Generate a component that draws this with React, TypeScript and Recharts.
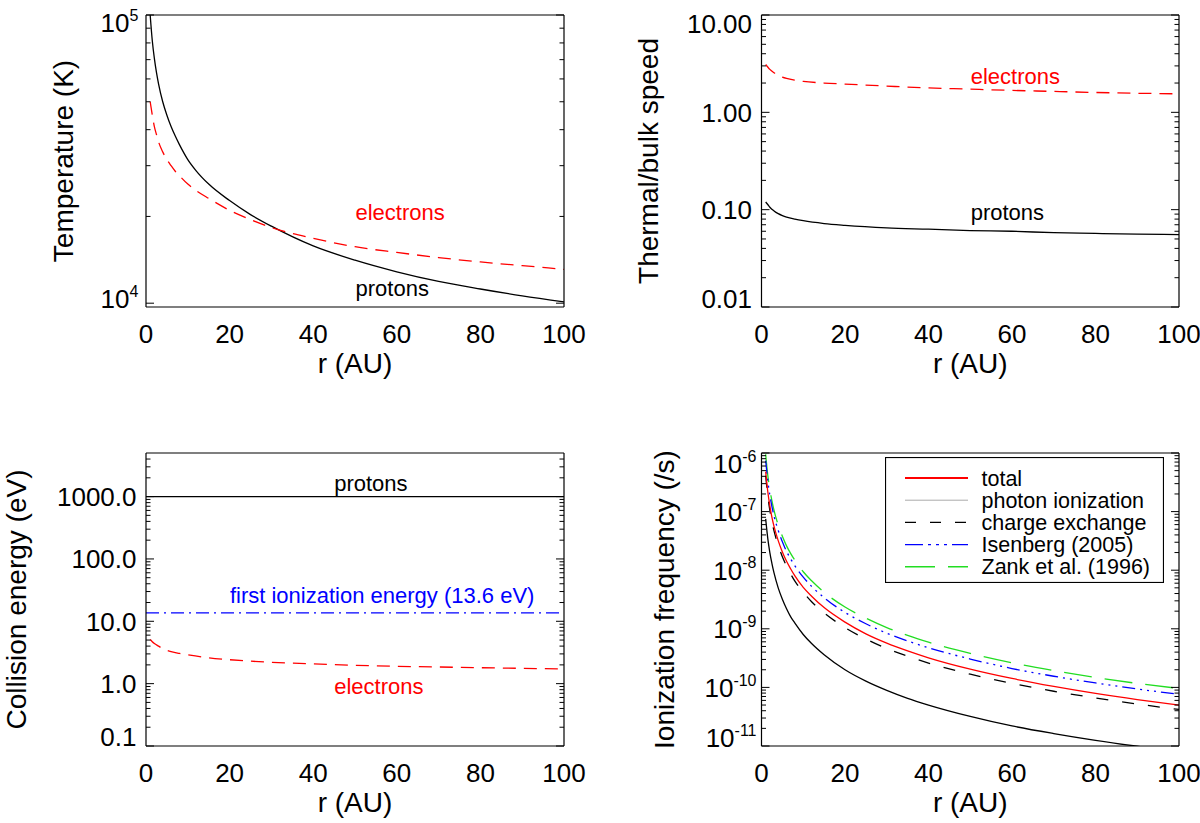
import React from "react";
import {
  Legend,
  Line,
  LineChart,
  ReferenceDot,
  ReferenceLine,
  XAxis,
  YAxis,
} from "recharts";

const FONT = '"Liberation Sans", Arial, Helvetica, sans-serif';
const RED = "#ff0000";
const BLUE = "#0000ff";
const GREEN = "#22dd22";
const BLACK = "#000000";

// shared x axis: heliocentric distance (AU)
const rTicks = [0, 20, 40, 60, 80, 100];
const rMinorTicks = [5, 10, 15, 25, 30, 35, 45, 50, 55, 65, 70, 75, 85, 90, 95];

// top left: temperature (K)
const tempR = [1, 1.5, 2, 2.5, 3, 4, 5, 6, 7, 8, 10, 12, 15, 20, 25, 30, 40, 50, 60, 70, 80, 90, 100];
const tempProtons = [100000, 81600, 70700, 63200, 57700, 50000, 44900, 41000, 38000, 35500, 31500, 28800, 25900, 22700, 20300, 18500, 15800, 14100, 12850, 11900, 11200, 10600, 10100];
const tempElectrons = [50000, 45000, 41000, 38500, 36300, 33500, 31500, 30000, 28700, 27700, 25900, 24600, 23100, 21000, 19500, 18300, 16800, 15700, 15000, 14400, 13900, 13500, 13100];
const tempTicks = [1e4, 1e5];
const tempTickLabels = ["10^4", "10^5"];
const tempNotes = [
  { text: "electrons", r: 60.8, v: 20700 },
  { text: "protons", r: 58.9, v: 11300 },
];

// top right: thermal / bulk speed
const speedR = [1, 1.5, 2, 3, 4, 5, 6, 8, 10, 15, 20, 30, 40, 50, 60, 70, 80, 90, 100];
const speedElectrons = [3.1, 2.92, 2.76, 2.55, 2.4, 2.3, 2.23, 2.14, 2.08, 2.0, 1.95, 1.86, 1.78, 1.73, 1.68, 1.64, 1.6, 1.57, 1.55];
const speedProtons = [0.12, 0.113, 0.106, 0.097, 0.091, 0.087, 0.084, 0.08, 0.077, 0.072, 0.069, 0.065, 0.063, 0.061, 0.06, 0.058, 0.057, 0.056, 0.0555];
const speedTicks = [0.01, 0.1, 1, 10];
const speedTickLabels = ["0.01", "0.10", "1.00", "10.00"];
const speedNotes = [
  { text: "electrons", r: 60.8, v: 2.36 },
  { text: "protons", r: 58.9, v: 0.094 },
];

// bottom left: collision energy (eV)
const energyR = [1, 1.5, 2, 3, 4, 5, 6, 8, 10, 15, 20, 30, 40, 50, 60, 70, 80, 90, 100];
const energyElectrons = [5.1, 4.7, 4.4, 4.0, 3.65, 3.42, 3.26, 3.05, 2.9, 2.6, 2.42, 2.2, 2.07, 1.97, 1.9, 1.85, 1.8, 1.76, 1.72];
const energyProtonR = [0, 20, 40, 60, 80, 100];
const energyProtons = [1000, 1000, 1000, 1000, 1000, 1000];
const firstIonizationEnergy = 13.6;
const energyTicks = [0.1, 1, 10, 100, 1000];
const energyTickLabels = ["0.1", "1.0", "10.0", "100.0", "1000.0"];
const energyNotes = [
  { text: "protons", r: 53.8, v: 1618 },
  { text: "first ionization energy (13.6 eV)", r: 56.5, v: 26.7 },
  { text: "electrons", r: 55.7, v: 0.925 },
];

// bottom right: ionization frequency (/s)
const ionR = [1, 1.5, 2, 2.5, 3, 4, 5, 6, 7, 8, 10, 12, 15, 20, 25, 30, 35, 40, 50, 60, 70, 80, 90, 100];
const ionTotal = [4.8e-7, 2.2e-7, 1.25e-7, 8e-8, 5.6e-8, 3.2e-8, 2.05e-8, 1.42e-8, 1.05e-8, 8e-9, 5.1e-9, 3.6e-9, 2.3e-9, 1.3e-9, 8.2e-10, 5.7e-10, 4.2e-10, 3.2e-10, 2.05e-10, 1.42e-10, 1.04e-10, 7.9e-11, 6.2e-11, 5e-11];
const ionPhoton = [7.5e-8, 3.5e-8, 2e-8, 1.3e-8, 9e-9, 5e-9, 3.2e-9, 2.2e-9, 1.6e-9, 1.25e-9, 8e-10, 5.6e-10, 3.6e-10, 2e-10, 1.28e-10, 8.9e-11, 6.5e-11, 5e-11, 3.2e-11, 2.2e-11, 1.63e-11, 1.25e-11, 9.9e-12, 8e-12];
const ionCharge = [4.1e-7, 1.85e-7, 1.05e-7, 6.7e-8, 4.7e-8, 2.65e-8, 1.7e-8, 1.18e-8, 8.6e-9, 6.5e-9, 4.2e-9, 2.9e-9, 1.87e-9, 1.05e-9, 6.7e-10, 4.6e-10, 3.4e-10, 2.6e-10, 1.68e-10, 1.17e-10, 8.6e-11, 6.6e-11, 5.2e-11, 4.2e-11];
const ionIsenberg = [7.4e-7, 3.4e-7, 1.9e-7, 1.22e-7, 8.4e-8, 4.8e-8, 3.05e-8, 2.1e-8, 1.55e-8, 1.19e-8, 7.6e-9, 5.3e-9, 3.4e-9, 1.9e-9, 1.22e-9, 8.4e-10, 6.2e-10, 4.75e-10, 3.05e-10, 2.1e-10, 1.55e-10, 1.19e-10, 9.4e-11, 7.6e-11];
const ionZank = [9.5e-7, 4.2e-7, 2.4e-7, 1.52e-7, 1.05e-7, 5.9e-8, 3.8e-8, 2.6e-8, 1.92e-8, 1.48e-8, 9.4e-9, 6.6e-9, 4.2e-9, 2.35e-9, 1.52e-9, 1.05e-9, 7.7e-10, 5.9e-10, 3.8e-10, 2.63e-10, 1.94e-10, 1.48e-10, 1.17e-10, 9.6e-11];
const ionTicks = [1e-11, 1e-10, 1e-9, 1e-8, 1e-7, 1e-6];
const ionTickLabels = ["10^-11", "10^-10", "10^-9", "10^-8", "10^-7", "10^-6"];

const ionLegend = [
  { name: "total", color: RED, width: 2, dash: undefined as string | undefined },
  { name: "photon ionization", color: "#aaaaaa", width: 1, dash: undefined },
  { name: "charge exchange", color: BLACK, width: 1.4, dash: "11 14" },
  { name: "Isenberg (2005)", color: BLUE, width: 1.4, dash: "18 5 3 5 3 5 3 5" },
  { name: "Zank et al. (1996)", color: GREEN, width: 1.4, dash: "30 13" },
];

type Pt = { r: number; v: number };
const toPoints = (rs: number[], vs: number[]): Pt[] => rs.map((r, i) => ({ r, v: vs[i] }));

function logMinorTicks(lo: number, hi: number) {
  const out: number[] = [];
  for (let e = Math.floor(Math.log10(lo)); e <= Math.ceil(Math.log10(hi)); e++) {
    for (let m = 2; m <= 9; m++) {
      const v = m * Math.pow(10, e);
      if (v > lo * 1.0001 && v < hi * 0.9999) out.push(v);
    }
  }
  return out;
}

type Panel = {
  left: number;
  top: number;
  width: number;
  height: number;
  margin: { top: number; right: number; bottom: number; left: number };
  yAxisWidth: number;
  xAxisHeight: number;
  yDomain: [number, number];
  yTicks: number[];
  yTickLabels: string[];
  yLabelShift: number[];
  yTickMargin: number;
  yTitle: string;
  yTitleX: number;
};

const panels: Record<string, Panel> = {
  temp: {
    left: 0, top: 0, width: 600, height: 411,
    margin: { top: 15, right: 36, bottom: 0, left: 0 },
    yAxisWidth: 146, xAxisHeight: 104,
    yDomain: [9700, 100000],
    yTicks: tempTicks, yTickLabels: tempTickLabels, yLabelShift: [-4.5, 8],
    yTickMargin: 7.7, yTitle: "Temperature (K)", yTitleX: 63,
  },
  speed: {
    left: 600, top: 0, width: 600, height: 411,
    margin: { top: 15, right: 21, bottom: 0, left: 0 },
    yAxisWidth: 161.5, xAxisHeight: 104,
    yDomain: [0.01, 10],
    yTicks: speedTicks, yTickLabels: speedTickLabels, yLabelShift: [-8.5, 0, 0, 8.5],
    yTickMargin: 9.5, yTitle: "Thermal/bulk speed", yTitleX: 48,
  },
  energy: {
    left: 0, top: 411, width: 600, height: 412,
    margin: { top: 42, right: 36, bottom: 0, left: 0 },
    yAxisWidth: 146, xAxisHeight: 77,
    yDomain: [0.1, 5000],
    yTicks: energyTicks, yTickLabels: energyTickLabels, yLabelShift: [-9.5, 0, 0, 0, 0],
    yTickMargin: 9.5, yTitle: "Collision energy (eV)", yTitleX: 15.5,
  },
  ion: {
    left: 600, top: 411, width: 600, height: 412,
    margin: { top: 42, right: 21, bottom: 0, left: 0 },
    yAxisWidth: 161.5, xAxisHeight: 77,
    yDomain: [1e-11, 1e-6],
    yTicks: ionTicks, yTickLabels: ionTickLabels, yLabelShift: [-8.5, 0, 0, 0, 0, 10.5],
    yTickMargin: 5, yTitle: "Ionization frequency (/s)", yTitleX: 63.5,
  },
};

function renderYTick(t: any, p: Panel) {
  const i = p.yTicks.indexOf(t.payload.value);
  if (i < 0) return <g />;
  const label = p.yTickLabels[i];
  const base = t.y + p.yLabelShift[i] + 9.4;
  const parts = label.split("^");
  return (
    <text x={t.x} y={base} textAnchor="end" fontSize={26} fontFamily={FONT} fill={BLACK}>
      {parts.length === 2 ? (
        <>
          <tspan>{parts[0]}</tspan>
          <tspan dy={-11.2} fontSize={16}>{parts[1]}</tspan>
        </>
      ) : (
        label
      )}
    </text>
  );
}

// tick marks only, no label
const noLabel = () => <g />;

const xTitle = (props: any) => {
  const vb = props.viewBox ?? { x: 0, y: 0, width: 0, height: 0 };
  return (
    <text x={vb.x + vb.width / 2} y={vb.y + 66} textAnchor="middle" fontSize={28} fontFamily={FONT} fill={BLACK}>
      r (AU)
    </text>
  );
};

const yTitle = (p: Panel) => (props: any) => {
  const vb = props.viewBox ?? { x: 0, y: 0, width: 0, height: 0 };
  const cy = vb.y + vb.height / 2;
  return (
    <text
      x={p.yTitleX}
      y={cy + 10}
      transform={`rotate(-90 ${p.yTitleX} ${cy})`}
      textAnchor="middle"
      fontSize={28}
      fontFamily={FONT}
      fill={BLACK}
    >
      {p.yTitle}
    </text>
  );
};

// axes: labelled bottom/left plus tick-only mirrored axes that close the box
function frame(p: Panel) {
  const line = { stroke: BLACK, strokeWidth: 1.2 };
  const tl = { stroke: BLACK, strokeWidth: 1 };
  const minor = logMinorTicks(p.yDomain[0], p.yDomain[1]);
  return [
    <XAxis key="x" xAxisId="x" dataKey="r" type="number" domain={[0, 100]} allowDataOverflow interval={0}
      ticks={rTicks} height={p.xAxisHeight} axisLine={line} tickLine={false} tickSize={0} tickMargin={18}
      tick={{ fontSize: 26, fill: BLACK, fontFamily: FONT }} label={xTitle} />,
    <XAxis key="xb" xAxisId="xb" type="number" domain={[0, 100]} allowDataOverflow interval={0}
      ticks={rTicks} mirror height={0.01} axisLine={false} tick={noLabel} tickLine={tl} tickSize={6} />,
    <XAxis key="xbm" xAxisId="xbm" type="number" domain={[0, 100]} allowDataOverflow interval={0}
      ticks={rMinorTicks} mirror height={0.01} axisLine={false} tick={noLabel} tickLine={tl} tickSize={3} />,
    <XAxis key="xt" xAxisId="xt" orientation="top" type="number" domain={[0, 100]} allowDataOverflow interval={0}
      ticks={rTicks} mirror height={0.01} axisLine={line} tick={noLabel} tickLine={tl} tickSize={6} />,
    <XAxis key="xtm" xAxisId="xtm" orientation="top" type="number" domain={[0, 100]} allowDataOverflow interval={0}
      ticks={rMinorTicks} mirror height={0.01} axisLine={false} tick={noLabel} tickLine={tl} tickSize={3} />,
    <YAxis key="y" yAxisId="y" type="number" scale="log" domain={p.yDomain} allowDataOverflow interval={0}
      ticks={p.yTicks} width={p.yAxisWidth} axisLine={line} tickLine={false} tickSize={0} tickMargin={p.yTickMargin}
      tick={(t: any) => renderYTick(t, p)} label={yTitle(p)} />,
    <YAxis key="yl" yAxisId="yl" type="number" scale="log" domain={p.yDomain} allowDataOverflow interval={0}
      ticks={p.yTicks} mirror width={0.01} axisLine={false} tick={noLabel} tickLine={tl} tickSize={8} />,
    <YAxis key="ylm" yAxisId="ylm" type="number" scale="log" domain={p.yDomain} allowDataOverflow interval={0}
      ticks={minor} mirror width={0.01} axisLine={false} tick={noLabel} tickLine={tl} tickSize={4.5} />,
    <YAxis key="yr" yAxisId="yr" orientation="right" type="number" scale="log" domain={p.yDomain} allowDataOverflow interval={0}
      ticks={p.yTicks} mirror width={0.01} axisLine={line} tick={noLabel} tickLine={tl} tickSize={8} />,
    <YAxis key="yrm" yAxisId="yrm" orientation="right" type="number" scale="log" domain={p.yDomain} allowDataOverflow interval={0}
      ticks={minor} mirror width={0.01} axisLine={false} tick={noLabel} tickLine={tl} tickSize={4.5} />,
  ];
}

function series(key: string, data: Pt[], stroke: string, dash?: string, width = 1.3) {
  return (
    <Line
      key={key}
      xAxisId="x"
      yAxisId="y"
      data={data}
      dataKey="v"
      type="monotone"
      stroke={stroke}
      strokeWidth={width}
      strokeDasharray={dash}
      dot={false}
      activeDot={false}
      isAnimationActive={false}
    />
  );
}

function notes(list: { text: string; r: number; v: number }[], colors: string[]) {
  return list.map((n, i) => (
    <ReferenceDot
      key={"note" + i}
      xAxisId="x"
      yAxisId="y"
      x={n.r}
      y={n.v}
      r={0}
      fill="none"
      stroke="none"
      ifOverflow="visible"
      label={{ value: n.text, position: "center", fill: colors[i], fontSize: 22, fontFamily: FONT }}
    />
  ));
}

function IonLegend() {
  return (
    <svg width={279} height={126} style={{ display: "block" }}>
      <rect x={0.5} y={0.5} width={278} height={125} fill="#ffffff" stroke={BLACK} strokeWidth={1.2} />
      {ionLegend.map((s, i) => {
        const y = 21 + i * 22.2;
        return (
          <g key={s.name}>
            <line x1={20} x2={83} y1={y} y2={y} stroke={s.color} strokeWidth={s.width} strokeDasharray={s.dash} />
            <text x={96.5} y={y + 7.5} fontSize={21.5} fontFamily={FONT} fill={BLACK}>
              {s.name}
            </text>
          </g>
        );
      })}
    </svg>
  );
}

function Chart({ p, children }: { p: Panel; children: React.ReactNode }) {
  return (
    <div style={{ position: "absolute", left: p.left, top: p.top }}>
      <LineChart width={p.width} height={p.height} margin={p.margin}>
        {frame(p)}
        {children}
      </LineChart>
    </div>
  );
}

export default function App() {
  return (
    <div
      style={{
        position: "absolute",
        left: 0,
        top: 0,
        width: 1200,
        height: 823,
        background: "#ffffff",
        overflow: "hidden",
        fontFamily: FONT,
      }}
    >
      <Chart p={panels.temp}>
        {series("tp", toPoints(tempR, tempProtons), BLACK)}
        {series("te", toPoints(tempR, tempElectrons), RED, "13 8")}
        {notes(tempNotes, [RED, BLACK])}
      </Chart>

      <Chart p={panels.speed}>
        {series("se", toPoints(speedR, speedElectrons), RED, "13 8")}
        {series("sp", toPoints(speedR, speedProtons), BLACK)}
        {notes(speedNotes, [RED, BLACK])}
      </Chart>

      <Chart p={panels.energy}>
        {series("ep", toPoints(energyProtonR, energyProtons), BLACK)}
        <ReferenceLine
          xAxisId="x"
          yAxisId="y"
          y={firstIonizationEnergy}
          stroke={BLUE}
          strokeWidth={1.3}
          strokeDasharray="13 5 2 5"
        />
        {series("ee", toPoints(energyR, energyElectrons), RED, "13 8")}
        {notes(energyNotes, [BLACK, BLUE, RED])}
      </Chart>

      <Chart p={panels.ion}>
        {series("iz", toPoints(ionR, ionZank), GREEN, "28 13")}
        {series("ii", toPoints(ionR, ionIsenberg), BLUE, "13 5 2 5 2 5 2 5")}
        {series("ic", toPoints(ionR, ionCharge), BLACK, "12 14")}
        {series("ip", toPoints(ionR, ionPhoton), BLACK)}
        {series("it", toPoints(ionR, ionTotal), RED)}
        <Legend
          layout="vertical"
          align="center"
          verticalAlign="middle"
          wrapperStyle={{ left: 285, top: 46, width: 279, height: 126 }}
          content={() => <IonLegend />}
        />
      </Chart>
    </div>
  );
}
